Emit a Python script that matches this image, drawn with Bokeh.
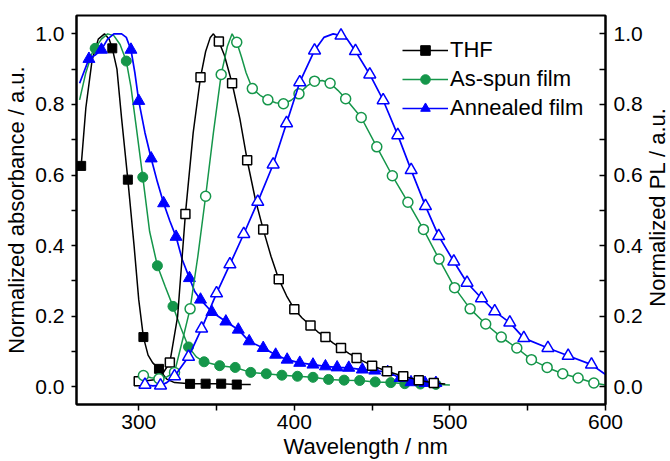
import math
from bokeh.plotting import figure
from bokeh.models import (Range1d, LinearAxis, FixedTicker, PrintfTickFormatter,
                          Legend, LegendItem, Title, Label)
from bokeh.embed import file_html
from bokeh.resources import INLINE

# ---------------- data ----------------
# Absorption, THF solution (filled squares)
thf_abs_line_x = [263, 266, 270, 274, 278, 281, 283, 286, 289, 293, 297, 300, 303, 306, 309, 313, 318, 323, 333, 343, 353, 363, 372]
thf_abs_line_y = [0.626, 0.79, 0.925, 0.985, 1.0, 0.985, 0.959, 0.9, 0.76, 0.587, 0.40, 0.247, 0.141, 0.09, 0.068, 0.051, 0.022, 0.012, 0.0085, 0.009, 0.009, 0.0065, 0.007]
thf_abs_x = [263, 283, 293, 303, 313, 333, 343, 353, 363]
thf_abs_y = [0.626, 0.959, 0.587, 0.141, 0.051, 0.0085, 0.009, 0.009, 0.0065]

# Absorption, as-spun film (filled circles)
spun_abs_line_x = [262, 266, 270, 272, 276, 280, 284, 288, 292, 295, 298, 302.6, 307, 312, 317, 322, 327, 332, 337, 342, 352, 362, 372, 382, 392, 402, 412, 422, 432, 442, 452, 462, 471, 481, 491, 500]
spun_abs_line_y = [0.813, 0.89, 0.945, 0.959, 0.985, 1.0, 0.995, 0.97, 0.923, 0.85, 0.75, 0.594, 0.44, 0.343, 0.284, 0.228, 0.168, 0.113, 0.085, 0.071, 0.060, 0.055, 0.041, 0.037, 0.033, 0.030, 0.027, 0.021, 0.019, 0.018, 0.014, 0.012, 0.009, 0.008, 0.007, 0.005]
spun_abs_x = [272, 292, 302.6, 312, 322, 332, 342, 352, 362, 372, 382, 392, 402, 412, 422, 432, 442, 452, 462, 471, 481, 491]
spun_abs_y = [0.959, 0.923, 0.594, 0.343, 0.228, 0.113, 0.071, 0.060, 0.055, 0.041, 0.037, 0.033, 0.030, 0.027, 0.021, 0.019, 0.018, 0.014, 0.012, 0.009, 0.008, 0.007]

# Absorption, annealed film (filled triangles)
ann_abs_line_x = [262, 268, 272, 276, 280, 284, 289, 292, 295, 297.5, 300, 304, 308, 312, 316, 320, 324, 328, 332.6, 336, 339.7, 347, 356, 364, 371, 380, 388, 395.4, 403.5, 412, 420, 427.5, 435, 443.7, 451.7, 460, 468, 475, 484, 491]
ann_abs_line_y = [0.86, 0.929, 0.94, 0.955, 0.985, 1.0, 1.0, 0.99, 0.955, 0.89, 0.81, 0.72, 0.647, 0.58, 0.52, 0.47, 0.425, 0.36, 0.308, 0.27, 0.247, 0.212, 0.185, 0.162, 0.129, 0.11, 0.091, 0.077, 0.068, 0.063, 0.058, 0.055, 0.054, 0.049, 0.046, 0.042, 0.025, 0.013, 0.011, 0.011]
ann_abs_x = [268, 276, 295, 300, 308, 316, 324, 332.6, 339.7, 347, 356, 364, 371, 380, 388, 395.4, 403.5, 412, 420, 427.5, 435, 443.7, 451.7, 460, 468, 475, 484, 491]
ann_abs_y = [0.929, 0.955, 0.955, 0.81, 0.647, 0.52, 0.425, 0.308, 0.247, 0.212, 0.185, 0.162, 0.129, 0.11, 0.091, 0.077, 0.068, 0.063, 0.058, 0.055, 0.054, 0.049, 0.046, 0.042, 0.025, 0.013, 0.011, 0.011]

# PL, THF solution (open squares)
thf_pl_line_x = [300, 305, 310, 315, 320, 325, 330, 335, 339.7, 343, 346, 348, 351.5, 355, 360, 365, 369.7, 375, 380, 385, 390, 395, 400, 405, 410.4, 415, 420, 425, 430, 435, 440, 450, 459.6, 470, 480, 489.6, 497]
thf_pl_line_y = [0.016, 0.017, 0.02, 0.035, 0.069, 0.2, 0.49, 0.72, 0.877, 0.95, 0.99, 1.0, 0.978, 0.94, 0.86, 0.76, 0.642, 0.53, 0.446, 0.37, 0.305, 0.258, 0.22, 0.195, 0.174, 0.156, 0.141, 0.124, 0.11, 0.095, 0.082, 0.06, 0.044, 0.030, 0.019, 0.011, 0.008]
thf_pl_x = [300, 320, 330, 339.7, 351.5, 360, 369.7, 380, 390, 400, 410.4, 420, 430, 440, 450, 459.6, 470, 480, 489.6]
thf_pl_y = [0.016, 0.069, 0.49, 0.877, 0.978, 0.86, 0.642, 0.446, 0.305, 0.22, 0.174, 0.141, 0.11, 0.082, 0.06, 0.044, 0.030, 0.019, 0.011]

# PL, as-spun film (open circles)
spun_pl_line_x = [303, 308, 313, 318, 323, 328, 333, 338, 343, 348, 353, 357, 360, 363, 366, 369, 373, 378, 383, 388, 393, 398, 403, 408, 413, 418, 423, 428, 433, 443, 453, 463, 473, 483, 493, 503, 513, 523, 533, 543, 552.4, 562.5, 572.5, 582.4, 592.5, 600]
spun_pl_line_y = [0.032, 0.026, 0.023, 0.028, 0.041, 0.13, 0.221, 0.37, 0.54, 0.72, 0.885, 0.965, 1.0, 0.976, 0.935, 0.89, 0.845, 0.826, 0.813, 0.805, 0.802, 0.812, 0.83, 0.852, 0.866, 0.868, 0.86, 0.84, 0.816, 0.763, 0.68, 0.598, 0.523, 0.446, 0.362, 0.281, 0.221, 0.178, 0.141, 0.11, 0.077, 0.055, 0.037, 0.025, 0.011, 0.005]
spun_pl_x = [303, 313, 323, 333, 343, 353, 363, 373, 383, 393, 403, 413, 423, 433, 443, 453, 463, 473, 483, 493, 503, 513, 523, 533, 543, 552.4, 562.5, 572.5, 582.4, 592.5]
spun_pl_y = [0.032, 0.023, 0.041, 0.221, 0.54, 0.885, 0.976, 0.845, 0.813, 0.802, 0.83, 0.866, 0.86, 0.816, 0.763, 0.68, 0.598, 0.523, 0.446, 0.362, 0.281, 0.221, 0.178, 0.141, 0.11, 0.077, 0.055, 0.037, 0.025, 0.011]

# PL, annealed film (open triangles)
ann_pl_line_x = [304, 309, 314, 318, 323, 332, 340.4, 350, 358.6, 367.5, 376.5, 386.4, 395, 403.5, 413, 419, 425, 430, 434, 439.3, 448.5, 457.1, 466.5, 475.1, 484.3, 492.8, 502.5, 511, 520.3, 528.8, 538.5, 547.5, 563, 576, 591, 600]
ann_pl_line_y = [0.006, 0.003, 0.004, 0.012, 0.03, 0.085, 0.165, 0.265, 0.347, 0.433, 0.524, 0.63, 0.747, 0.863, 0.953, 0.99, 1.0, 0.995, 0.985, 0.951, 0.885, 0.812, 0.713, 0.614, 0.512, 0.427, 0.355, 0.295, 0.251, 0.214, 0.182, 0.138, 0.11, 0.088, 0.063, 0.035]
ann_pl_x = [304, 314, 323, 332, 340.4, 350, 358.6, 367.5, 376.5, 386.4, 395, 403.5, 413, 430, 439.3, 448.5, 457.1, 466.5, 475.1, 484.3, 492.8, 502.5, 511, 520.3, 528.8, 538.5, 547.5, 563, 576, 591]
ann_pl_y = [0.006, 0.004, 0.03, 0.085, 0.165, 0.265, 0.347, 0.433, 0.524, 0.63, 0.747, 0.863, 0.953, 0.995, 0.951, 0.885, 0.812, 0.713, 0.614, 0.512, 0.427, 0.355, 0.295, 0.251, 0.214, 0.182, 0.138, 0.11, 0.088, 0.063]

legend_labels = ["THF", "As-spun film", "Annealed film"]
x_ticks = [300, 400, 500, 600]
x_minor = [350, 450, 550]
y_ticks = [0.0, 0.2, 0.4, 0.6, 0.8, 1.0]
y_minor = [0.1, 0.3, 0.5, 0.7, 0.9]

# ---------------- style ----------------
FONT = "Liberation Sans"
BLACK = "#000000"
GREEN = "#15964a"
BLUE = "#0000ff"
FRAME_H = 389

p = figure(frame_width=529, frame_height=FRAME_H, output_backend="svg", toolbar_location=None,
           x_range=Range1d(260, 600), y_range=Range1d(-0.05, 1.052),
           min_border_left=76, min_border_right=65, min_border_top=15, min_border_bottom=56)
p.grid.visible = False
p.outline_line_color = "black"
p.outline_line_width = 2
p.background_fill_color = "white"

def style_axis(ax, ticks, minor, fmt):
    ax.ticker = FixedTicker(ticks=ticks, minor_ticks=minor)
    ax.formatter = PrintfTickFormatter(format=fmt)
    ax.axis_line_width = 2
    ax.axis_line_color = "black"
    ax.major_tick_line_width = 1.5
    ax.minor_tick_line_width = 1.5
    ax.major_tick_line_color = "black"
    ax.minor_tick_line_color = "black"
    ax.major_label_text_font = FONT
    ax.major_label_text_font_size = "21px"
    ax.major_label_text_color = "black"
    ax.axis_label_text_font = FONT
    ax.axis_label_text_font_size = "22px"
    ax.axis_label_text_font_style = "normal"
    ax.axis_label_text_color = "black"

xa = p.xaxis[0]
style_axis(xa, x_ticks, x_minor, "%d")
xa.major_tick_out = 6
xa.major_tick_in = 0
xa.minor_tick_out = 6
xa.minor_tick_in = 0
xa.major_label_standoff = 4

ya = p.yaxis[0]
style_axis(ya, y_ticks, y_minor, "%.1f")
ya.major_tick_out = 5
ya.major_tick_in = 0
ya.minor_tick_out = 5
ya.minor_tick_in = 0
ya.major_label_standoff = 7
ya.axis_label = "Normalized absorbance / a.u."
ya.axis_label_standoff = 3

ra = LinearAxis()
style_axis(ra, y_ticks, y_minor, "%.1f")
ra.major_tick_out = 0
ra.major_tick_in = 6
ra.minor_tick_out = 0
ra.minor_tick_in = 6
ra.major_label_standoff = 8
p.add_layout(ra, "right")

# right-hand axis title, reading bottom to top
rlabel = Label(x=12, y=197.5, x_units="screen", y_units="screen", text="Normalized PL / a.u.",
               angle=math.pi / 2, text_font=FONT, text_font_size="22px", text_color="black",
               text_align="center", text_baseline="alphabetic")
p.add_layout(rlabel, "right")

xtitle = Title(text="Wavelength / nm", align="left", offset=207,
               text_font=FONT, text_font_size="22px", text_font_style="normal",
               text_color="black", standoff=0)
p.add_layout(xtitle, "below")

# ---------------- curves ----------------
r1l = p.line(thf_abs_line_x, thf_abs_line_y, line_color=BLACK, line_width=1.5)
r1m = p.scatter(thf_abs_x, thf_abs_y, marker="square", size=9, fill_color=BLACK, line_color=BLACK, line_width=1)
r2l = p.line(spun_abs_line_x, spun_abs_line_y, line_color=GREEN, line_width=1.5)
r2m = p.scatter(spun_abs_x, spun_abs_y, marker="circle", size=10, fill_color=GREEN, line_color=GREEN, line_width=1)
r3l = p.line(ann_abs_line_x, ann_abs_line_y, line_color=BLUE, line_width=1.7)
r3m = p.scatter(ann_abs_x, ann_abs_y, marker="triangle", size=12, fill_color=BLUE, line_color=BLUE, line_width=1)

p.line(thf_pl_line_x, thf_pl_line_y, line_color=BLACK, line_width=1.5)
p.scatter(thf_pl_x, thf_pl_y, marker="square", size=9, fill_color="white", line_color=BLACK, line_width=1.5)
p.line(spun_pl_line_x, spun_pl_line_y, line_color=GREEN, line_width=1.5)
p.scatter(spun_pl_x, spun_pl_y, marker="circle", size=10, fill_color="white", line_color=GREEN, line_width=1.5)
p.line(ann_pl_line_x, ann_pl_line_y, line_color=BLUE, line_width=1.7)
p.scatter(ann_pl_x, ann_pl_y, marker="triangle", size=12, fill_color="white", line_color=BLUE, line_width=1.5)

legend = Legend(items=[LegendItem(label=legend_labels[0], renderers=[r1l, r1m]),
                       LegendItem(label=legend_labels[1], renderers=[r2l, r2m]),
                       LegendItem(label=legend_labels[2], renderers=[r3l, r3m])],
                location=(326, FRAME_H - 106), orientation="vertical",
                border_line_alpha=0, background_fill_alpha=0,
                padding=0, margin=0, spacing=3, label_height=24, glyph_height=24,
                glyph_width=46, label_standoff=2,
                label_text_font=FONT, label_text_font_size="22px", label_text_color="black")
p.add_layout(legend)

open("out.html", "w").write(file_html(p, INLINE))
